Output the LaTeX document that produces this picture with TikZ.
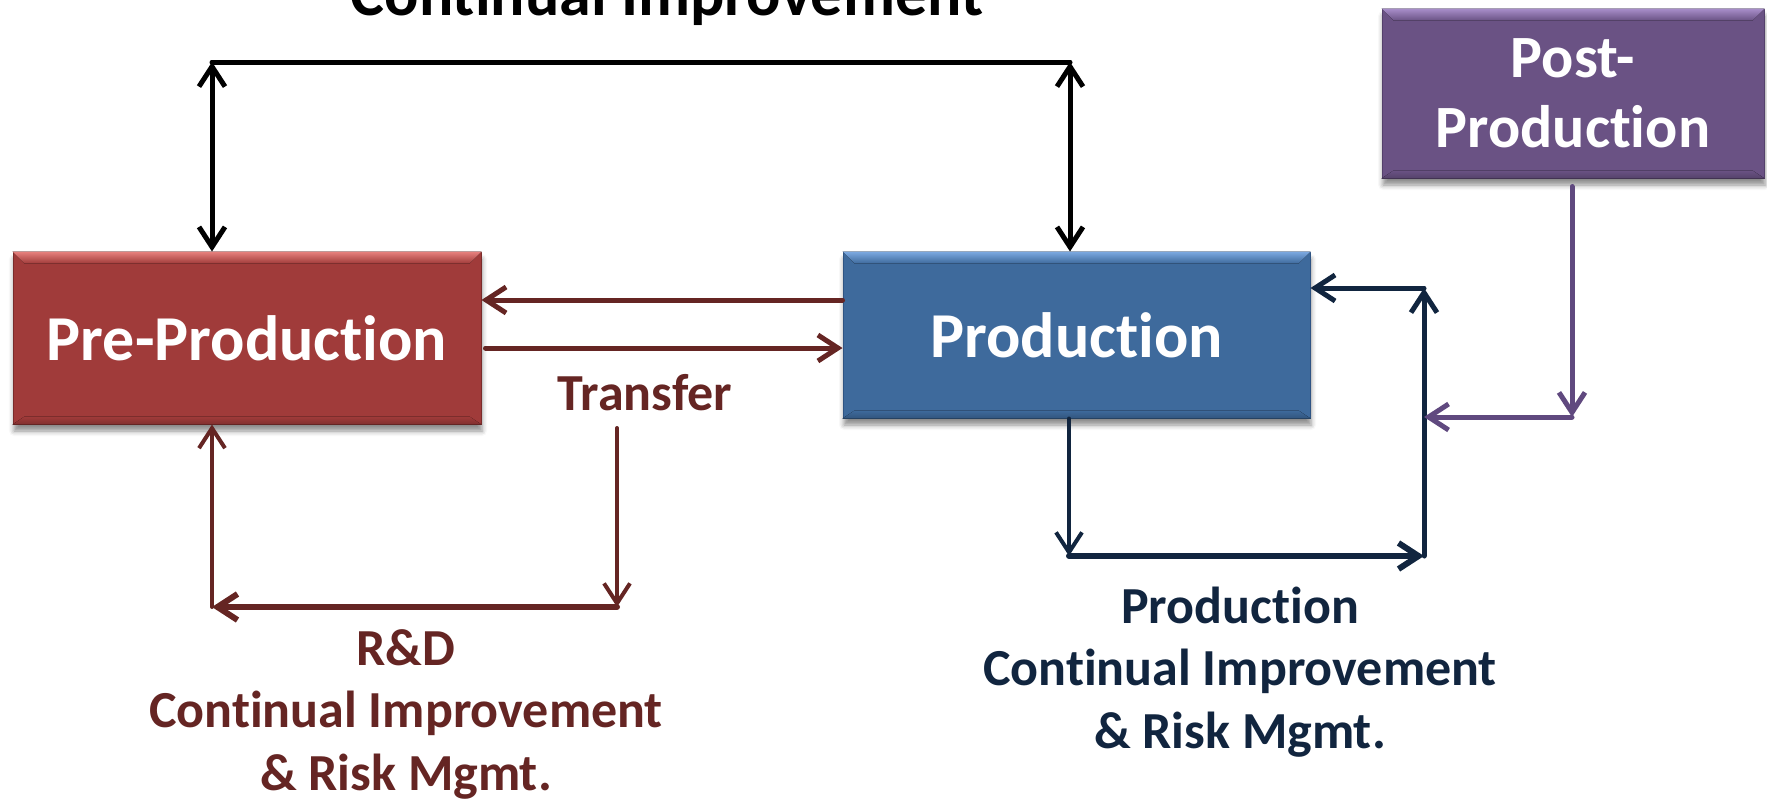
\documentclass[tikz,border=0pt]{standalone}
\usepackage{fontspec}
\setmainfont{Carlito}[Ligatures=NoCommon]
\usetikzlibrary{arrows.meta,calc,shadows.blur}
\definecolor{prered}{HTML}{A03B3A}
\definecolor{prelight}{HTML}{E8827F}
\definecolor{predark}{HTML}{7A2C2B}
\definecolor{prodblue}{HTML}{3E6A9C}
\definecolor{prodlight}{HTML}{7DAAE2}
\definecolor{proddark}{HTML}{2F5483}
\definecolor{postpurple}{HTML}{6A5284}
\definecolor{postlight}{HTML}{A98FCB}
\definecolor{postdark}{HTML}{54406B}
\definecolor{brownline}{HTML}{652523}
\definecolor{navyline}{HTML}{11253F}
\definecolor{purpline}{HTML}{60497F}
\newcommand{\bevel}[3]{%
  \fill[top color=#2, bottom color=#3] (#1.north west) -- (#1.north east) -- ($(#1.north east)+(-12,12)$) -- ($(#1.north west)+(12,12)$) -- cycle;
  \fill[top color=#3, bottom color=#3!80!black] ($(#1.south west)+(12,-8)$) -- ($(#1.south east)+(-12,-8)$) -- (#1.south east) -- (#1.south west) -- cycle;
}
\begin{document}
\begin{tikzpicture}[x=1pt,y=-1pt,
  >={Straight Barb[length=20pt,width=26pt]},
  line cap=round, line join=round,
  box/.style={inner sep=0pt, text=white, line width=1pt,
    font=\bfseries\fontsize{64}{77}\selectfont,
    blur shadow={shadow xshift=1pt, shadow yshift=-7pt, shadow blur radius=5pt, shadow opacity=45}},
  lbl/.style={font=\bfseries\fontsize{52}{62.5}\selectfont, align=center, inner sep=0pt},
  blk/.style={line width=5pt, black},
  brn/.style={line width=5pt, brownline},
  nvy/.style={line width=5pt, navyline},
  prp/.style={line width=5pt, purpline}]
\useasboundingbox (0,0) rectangle (1767,801);

% boxes
\node[box, fill=prered, draw=predark, minimum width=468pt, minimum height=172pt] (pre) at (247,338) {Pre-Production};
\bevel{pre}{prelight}{prered}
\node[box, fill=prodblue, draw=proddark, minimum width=467pt, minimum height=166pt] (prod) at (1076.5,335) {Production};
\bevel{prod}{prodlight}{prodblue}
\node[box, fill=postpurple, draw=postdark, minimum width=382pt, minimum height=169pt, align=center,
  font=\bfseries\fontsize{60}{73}\selectfont] (post) at (1573,93.5) {\raisebox{-3pt}{Post-}\\Production};
\bevel{post}{postlight}{postpurple}

% labels
\node[font=\bfseries\fontsize{64}{77}\selectfont, anchor=base, inner sep=0pt] (title) at (667,15) {Continual Improvement};
\node[lbl, text=brownline, anchor=base] (transfer) at (645,410) {Transfer};
\node[lbl, text=brownline, anchor=base] (rd) at (406,790) {R\&D\\Continual Improvement\\\& Risk Mgmt.};
\node[lbl, text=navyline, anchor=base] (pci) at (1240,748) {Production\\Continual Improvement\\\& Risk Mgmt.};

% coordinates
\coordinate (tl) at (212,62);
\coordinate (tr) at (1070,62);
\coordinate (r1) at (0,300);
\coordinate (r2) at (0,348);
\coordinate (bt) at (617,428);
\coordinate (br) at (617,607);
\coordinate (bl) at (212,607);
\coordinate (nb1) at (1069,556);
\coordinate (nb2) at (1424,556);
\coordinate (nt) at (1424,288);
\coordinate (pc) at (1572,417);

% black continual improvement loop
\draw[blk, <->] (tl) -- (tl |- pre.north);
\draw[blk] (tl) -- (tr);
\draw[blk, <->] (tr) -- (tr |- prod.north);

% transfer arrows
\draw[brn, ->] (prod.west |- r1) -- (pre.east |- r1);
\draw[brn, ->] ([xshift=4pt]pre.east |- r2) -- (prod.west |- r2);

% R&D loop
\draw[brn, line width=4pt, ->] (bt) -- (br);
\draw[brn, line width=6pt, ->] (br) -- (bl);
\draw[brn, line width=4pt, ->] (bl) -- (bl |- pre.south);

% production loop
\draw[nvy, line width=4pt, ->] (nb1 |- prod.south) -- (nb1);
\draw[nvy, line width=6pt, ->] (nb1) -- (nb2);
\draw[nvy, ->] (nb2) -- (nt);
\draw[nvy, ->] (nt) -- (prod.east |- nt);

% post-production feedback
\draw[prp, ->] ([yshift=-8pt]post.south -| pc) -- (pc);
\draw[prp, ->] (pc) -- (nb2 |- pc);
\end{tikzpicture}
\end{document}
